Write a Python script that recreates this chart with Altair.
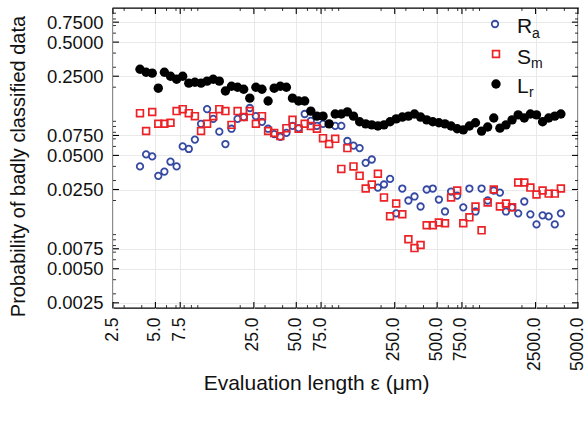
import altair as alt
import pandas as pd

# evaluation lengths (µm), shared by the three series
x_vals = [3.886, 4.295, 4.746, 5.242, 5.791, 6.399, 7.070, 7.811, 8.630, 9.535,
          10.54, 11.64, 12.86, 14.21, 15.70, 17.34, 19.16, 21.17, 23.39, 25.84,
          28.55, 31.55, 34.85, 38.51, 42.55, 47.01, 51.94, 57.39, 63.40, 70.05,
          77.40, 85.51, 94.47, 104.4, 115.3, 127.4, 140.8, 155.5, 171.8, 189.8,
          209.7, 231.7, 256.0, 282.9, 312.6, 345.3, 381.5, 421.5, 465.7, 514.5,
          568.5, 628.1, 693.9, 766.7, 847.1, 935.9, 1034, 1142, 1262, 1395,
          1541, 1702, 1881, 2078, 2296, 2537, 2803, 3097, 3421, 3780]

ra = [0.040, 0.051, 0.049, 0.033, 0.036, 0.044, 0.040, 0.060, 0.057, 0.069,
      0.095, 0.128, 0.105, 0.081, 0.063, 0.086, 0.105, 0.109, 0.131, 0.111,
      0.099, 0.086, 0.077, 0.073, 0.079, 0.091, 0.087, 0.116, 0.101, 0.091,
      0.095, 0.095, 0.091, 0.091, 0.067, 0.061, 0.058, 0.043, 0.046, 0.026,
      0.0277, 0.031, 0.0154, 0.0255, 0.020, 0.0217, 0.0177, 0.025, 0.0255, 0.0204,
      0.016, 0.024, 0.0221, 0.0174, 0.0255, 0.016, 0.0255, 0.020, 0.0245, 0.0235,
      0.016, 0.0174, 0.0154, 0.0196, 0.0151, 0.0123, 0.0148, 0.0145, 0.0123, 0.0154]

sm = [0.118, 0.082, 0.121, 0.095, 0.095, 0.097, 0.123, 0.128, 0.118, 0.111,
      0.082, 0.095, 0.111, 0.128, 0.123, 0.093, 0.123, 0.109, 0.123, 0.095,
      0.111, 0.082, 0.079, 0.074, 0.087, 0.103, 0.086, 0.095, 0.091, 0.086,
      0.071, 0.063, 0.070, 0.038, 0.058, 0.040, 0.033, 0.0255, 0.0277, 0.0345,
      0.0213, 0.0145, 0.0188, 0.0151, 0.0091, 0.0076, 0.0081, 0.0121, 0.0121, 0.0128,
      0.0126, 0.0213, 0.0245, 0.0126, 0.0142, 0.0177, 0.0109, 0.0192, 0.025, 0.0177,
      0.0188, 0.0174, 0.0288, 0.0288, 0.026, 0.0226, 0.0245, 0.023, 0.023, 0.0255]

lr = [0.288, 0.271, 0.266, 0.196, 0.271, 0.250, 0.235, 0.250, 0.217, 0.221,
      0.217, 0.226, 0.235, 0.226, 0.185, 0.204, 0.200, 0.192, 0.160, 0.200,
      0.192, 0.151, 0.196, 0.204, 0.200, 0.160, 0.151, 0.151, 0.123, 0.111,
      0.111, 0.095, 0.116, 0.116, 0.121, 0.111, 0.099, 0.095, 0.093, 0.091,
      0.093, 0.099, 0.105, 0.109, 0.111, 0.116, 0.109, 0.103, 0.099, 0.097,
      0.095, 0.091, 0.086, 0.084, 0.091, 0.097, 0.082, 0.089, 0.107, 0.087,
      0.093, 0.103, 0.114, 0.107, 0.116, 0.114, 0.099, 0.107, 0.111, 0.116]

x_ticks = [2.5, 5, 7.5, 25, 50, 75, 250, 500, 750, 2500, 5000]
y_ticks = [0.0025, 0.005, 0.0075, 0.025, 0.05, 0.075, 0.25, 0.5, 0.75]
x_minor = [3, 4, 6, 7, 8, 9, 10, 20, 30, 40, 60, 70, 80, 90, 100, 200, 300, 400,
           600, 700, 800, 900, 1000, 2000, 3000, 4000]
y_minor = [0.003, 0.004, 0.006, 0.007, 0.008, 0.009, 0.01, 0.02, 0.03, 0.04,
           0.06, 0.07, 0.08, 0.09, 0.1, 0.2, 0.3, 0.4, 0.6, 0.7, 0.8, 0.9]

legend_names = ["R", "S", "L"]
legend_subs = ["a", "m", "r"]

W, H = 465, 300
FONT = "Liberation Sans"
BLUE = "#3549a3"
RED = "#ec2227"

xs = alt.Scale(type="log", domain=[2.5, 5000])
ys = alt.Scale(type="log", domain=[0.00225, 1.0])

df = pd.DataFrame({"x": x_vals, "ra": ra, "sm": sm, "lr": lr})

X_TITLE = "Evaluation length ε (μm)"
Y_TITLE = "Probability of badly classified data"

x_axis = alt.Axis(values=x_ticks, format=".1f", labelAngle=270, title=X_TITLE,
                  grid=True, gridColor="#e9e9e9", ticks=False, domain=False,
                  labelFont=FONT, labelFontSize=17.5, labelColor="#111", labelPadding=9,
                  labelOffset=-1,
                  titleFont=FONT, titleFontSize=21, titleFontWeight="normal", titleColor="#111",
                  titleX=203, titleY=75, titleAnchor="middle", titleBaseline="middle")
y_axis = alt.Axis(values=y_ticks, format=".4f", title=Y_TITLE,
                  grid=True, gridColor="#e9e9e9", ticks=False, domain=False,
                  labelFont=FONT, labelFontSize=18.5, labelColor="#111", labelPadding=10,
                  titleFont=FONT, titleFontSize=20, titleFontWeight="normal", titleColor="#111",
                  titleX=-95, titleY=158, titleBaseline="middle")

XE = alt.X("x:Q", scale=xs, axis=x_axis, title=X_TITLE)

blue = alt.Chart(df).mark_point(shape="circle", filled=False, color=BLUE, size=42, strokeWidth=1.8, opacity=1).encode(
    x=XE, y=alt.Y("ra:Q", scale=ys, axis=y_axis, title=Y_TITLE))
red = alt.Chart(df).mark_point(shape="square", filled=False, color=RED, size=46, strokeWidth=1.7, opacity=1).encode(
    x=XE, y=alt.Y("sm:Q", scale=ys, axis=y_axis, title=Y_TITLE))
black = alt.Chart(df).mark_circle(color="black", size=88, opacity=1).encode(
    x=XE, y=alt.Y("lr:Q", scale=ys, axis=y_axis, title=Y_TITLE))

# inward frame ticks
xt = pd.DataFrame({"v": x_ticks})
yt = pd.DataFrame({"v": y_ticks})
xm = pd.DataFrame({"v": x_minor})
ym = pd.DataFrame({"v": y_minor})

def xticks(d, y1, y2, w):
    return alt.Chart(d).mark_rule(color="black", strokeWidth=w).encode(
        x=alt.X("v:Q", scale=xs, axis=x_axis, title=X_TITLE), y=alt.value(y1), y2=alt.value(y2))

def yticks(d, x1, x2, w):
    return alt.Chart(d).mark_rule(color="black", strokeWidth=w).encode(
        y=alt.Y("v:Q", scale=ys, axis=y_axis, title=Y_TITLE), x=alt.value(x1), x2=alt.value(x2))

tick_layers = [
    xticks(xt, H, H - 6, 1.1), xticks(xm, H, H - 3, 0.8),
    xticks(xt, 0, 6, 1.1), xticks(xm, 0, 3, 0.8),
    yticks(yt, 0, 6, 1.1), yticks(ym, 0, 3, 0.8),
    yticks(yt, W, W - 6, 1.1), yticks(ym, W, W - 3, 0.8),
]

# legend drawn inside the plot (top right)
one = pd.DataFrame({"k": [0]})
leg = []
sym_y = [16, 46, 76]
txt_y = [25, 56, 85]
sub_x = [419, 418, 416]
sub_y = [30, 60, 89]
leg.append(alt.Chart(one).mark_point(shape="circle", filled=False, color=BLUE, size=42, strokeWidth=1.8, opacity=1)
           .encode(x=alt.value(382), y=alt.value(sym_y[0])))
leg.append(alt.Chart(one).mark_point(shape="square", filled=False, color=RED, size=46, strokeWidth=1.7, opacity=1)
           .encode(x=alt.value(383), y=alt.value(sym_y[1])))
leg.append(alt.Chart(one).mark_circle(color="black", size=88, opacity=1)
           .encode(x=alt.value(383), y=alt.value(sym_y[2])))
for i in range(3):
    leg.append(alt.Chart(one).mark_text(text=legend_names[i], align="left", baseline="alphabetic",
                                        font=FONT, fontSize=21, color="#111")
               .encode(x=alt.value(404), y=alt.value(txt_y[i])))
    leg.append(alt.Chart(one).mark_text(text=legend_subs[i], align="left", baseline="alphabetic",
                                        font=FONT, fontSize=14, color="#111")
               .encode(x=alt.value(sub_x[i]), y=alt.value(sub_y[i])))

chart = alt.layer(blue, red, black, *tick_layers, *leg).properties(
    width=W, height=H,
    autosize=alt.AutoSizeParams(type="none"),
    padding={"left": 113, "top": 8, "right": 8, "bottom": 115},
    background="white",
).configure_view(stroke="black", strokeWidth=1.3)

chart.save("out.html", embed_options={"renderer": "svg", "actions": False})
